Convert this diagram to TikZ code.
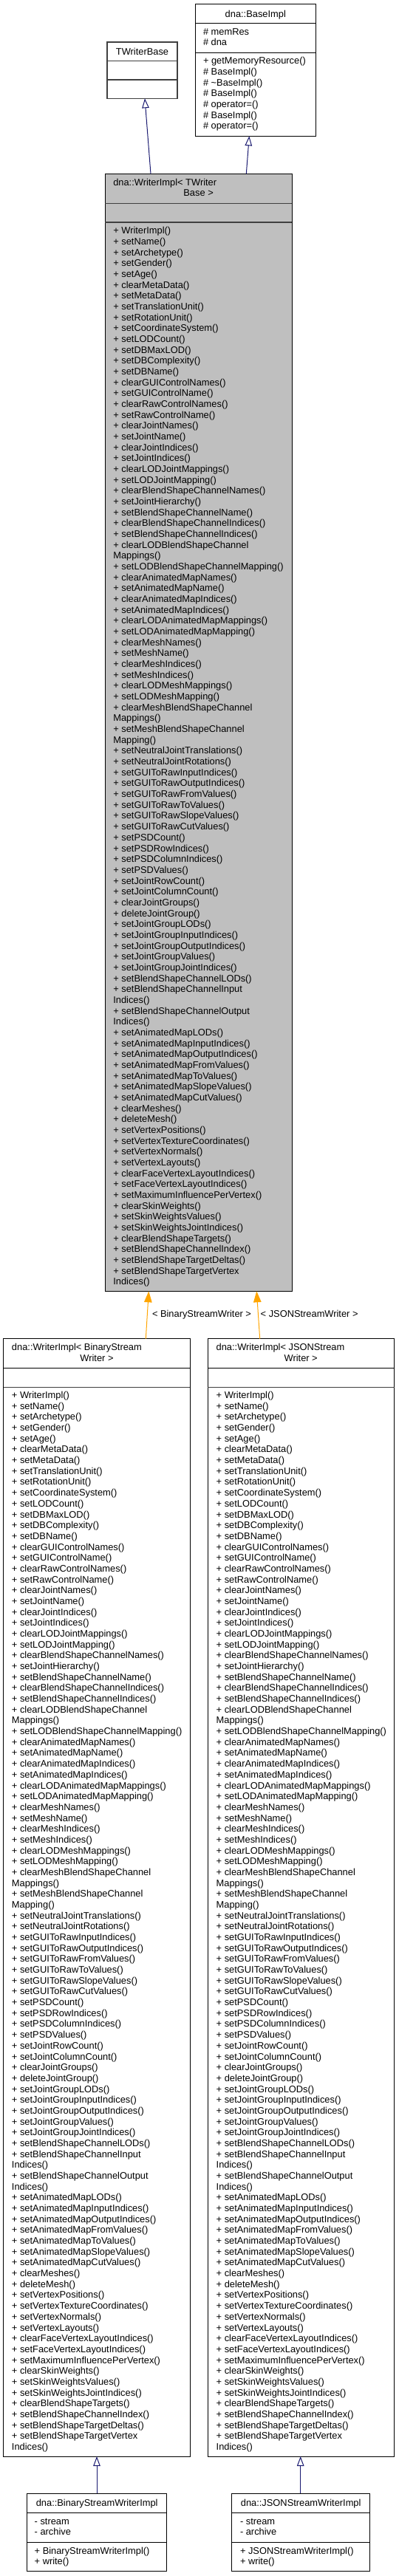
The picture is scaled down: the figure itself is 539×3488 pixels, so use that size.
\documentclass[tikz,border=0pt]{standalone}
\usepackage{fontspec}
\setmainfont{Liberation Sans}
\usetikzlibrary{arrows.meta,calc}
\definecolor{dxgray}{HTML}{BFBFBF}
\definecolor{dxblue}{HTML}{191970}
\definecolor{dxorange}{HTML}{FFA500}
\definecolor{dxline}{HTML}{404040}
\def\wlist{+ WriterImpl(),+ setName(),+ setArchetype(),+ setGender(),+ setAge(),+ clearMetaData(),+ setMetaData(),+ setTranslationUnit(),+ setRotationUnit(),+ setCoordinateSystem(),+ setLODCount(),+ setDBMaxLOD(),+ setDBComplexity(),+ setDBName(),+ clearGUIControlNames(),+ setGUIControlName(),+ clearRawControlNames(),+ setRawControlName(),+ clearJointNames(),+ setJointName(),+ clearJointIndices(),+ setJointIndices(),+ clearLODJointMappings(),+ setLODJointMapping(),+ clearBlendShapeChannelNames(),+ setJointHierarchy(),+ setBlendShapeChannelName(),+ clearBlendShapeChannelIndices(),+ setBlendShapeChannelIndices(),+ clearLODBlendShapeChannel,Mappings(),+ setLODBlendShapeChannelMapping(),+ clearAnimatedMapNames(),+ setAnimatedMapName(),+ clearAnimatedMapIndices(),+ setAnimatedMapIndices(),+ clearLODAnimatedMapMappings(),+ setLODAnimatedMapMapping(),+ clearMeshNames(),+ setMeshName(),+ clearMeshIndices(),+ setMeshIndices(),+ clearLODMeshMappings(),+ setLODMeshMapping(),+ clearMeshBlendShapeChannel,Mappings(),+ setMeshBlendShapeChannel,Mapping(),+ setNeutralJointTranslations(),+ setNeutralJointRotations(),+ setGUIToRawInputIndices(),+ setGUIToRawOutputIndices(),+ setGUIToRawFromValues(),+ setGUIToRawToValues(),+ setGUIToRawSlopeValues(),+ setGUIToRawCutValues(),+ setPSDCount(),+ setPSDRowIndices(),+ setPSDColumnIndices(),+ setPSDValues(),+ setJointRowCount(),+ setJointColumnCount(),+ clearJointGroups(),+ deleteJointGroup(),+ setJointGroupLODs(),+ setJointGroupInputIndices(),+ setJointGroupOutputIndices(),+ setJointGroupValues(),+ setJointGroupJointIndices(),+ setBlendShapeChannelLODs(),+ setBlendShapeChannelInput,Indices(),+ setBlendShapeChannelOutput,Indices(),+ setAnimatedMapLODs(),+ setAnimatedMapInputIndices(),+ setAnimatedMapOutputIndices(),+ setAnimatedMapFromValues(),+ setAnimatedMapToValues(),+ setAnimatedMapSlopeValues(),+ setAnimatedMapCutValues(),+ clearMeshes(),+ deleteMesh(),+ setVertexPositions(),+ setVertexTextureCoordinates(),+ setVertexNormals(),+ setVertexLayouts(),+ clearFaceVertexLayoutIndices(),+ setFaceVertexLayoutIndices(),+ setMaximumInfluencePerVertex(),+ clearSkinWeights(),+ setSkinWeightsValues(),+ setSkinWeightsJointIndices(),+ clearBlendShapeTargets(),+ setBlendShapeChannelIndex(),+ setBlendShapeTargetDeltas(),+ setBlendShapeTargetVertex,Indices()}
\begin{document}
\begin{tikzpicture}[x=1pt,y=-1pt,
  txt/.style={anchor=base west,inner sep=0pt,outer sep=0pt,font=\fontsize{12.85}{14.67}\selectfont},
  ctxt/.style={anchor=base,inner sep=0pt,outer sep=0pt,font=\fontsize{12.85}{14.67}\selectfont},
  classbox/.style={draw=black,line width=1pt,anchor=north west,inner sep=0pt,outer sep=0pt},
  divider/.style={draw=black,line width=1pt},
  emptydiv/.style={draw=dxline,line width=1.3pt},
  inh/.style={draw=dxblue,line width=1pt,-{Triangle[length=13pt,width=9.5pt,fill=white]}},
  tmpl/.style={draw=dxorange,line width=1pt,-{Triangle[length=15pt,width=10.5pt]}}]
\fill[white] (0,0) rectangle (539,3488);
\useasboundingbox (0,0) rectangle (539,3488);
% TWriterBase
\node[classbox,draw=dxline,line width=1.2pt,minimum width=95pt,minimum height=76.3pt] (twb) at (145,57) {};
\draw[emptydiv] (145,82.7) -- (240,82.7);
\draw[emptydiv] (145,108) -- (240,108);
\node[ctxt] (twbt) at (192.5,74.3) {TWriterBase};
% BaseImpl
\node[classbox,minimum width=163pt,minimum height=178.6pt] (bi) at (264.3,5.7) {};
\draw[divider] (264.3,31.7) -- (427.3,31.7);
\draw[divider] (264.3,71.3) -- (427.3,71.3);
\node[ctxt] (bit) at (345.8,23.2) {dna::BaseImpl};
\node[txt] (bia1) at (275,47.2) {\# memRes};
\node[txt] (bia2) at (275,61.8) {\# dna};
\foreach \t [count=\i from 0] in {+ getMemoryResource(),\# BaseImpl(),\# \textasciitilde BaseImpl(),\# BaseImpl(),\# operator=(),\# BaseImpl(),\# operator=()}
  {\node[txt] (bim\i) at (275,{86.8+\i*14.67}) {\t};}
% main box
\node[classbox,fill=dxgray,minimum width=252.7pt,minimum height=1513pt] (main) at (142.3,235.3) {};
\draw[emptydiv] (142.3,275.3) -- (395,275.3);
\draw[emptydiv] (142.3,301) -- (395,301);
\node[txt] (mt1) at (153.3,251.2) {dna::WriterImpl< TWriter};
\node[ctxt] (mt2) at (268.6,265.5) {Base >};
\foreach \t [count=\i from 0] in \wlist
  {\node[txt] (m\i) at (153.3,{316.8+\i*14.67}) {\t};}
% derived left
\node[classbox,minimum width=252.6pt,minimum height=1513.3pt] (dl) at (4.7,1812.7) {};
\draw[divider] (4.7,1852.3) -- (257.3,1852.3);
\draw[emptydiv] (4.7,1878.3) -- (257.3,1878.3);
\node[txt] (dlt1) at (16,1828.8) {dna::WriterImpl< BinaryStream};
\node[ctxt] (dlt2) at (131,1843.2) {Writer >};
\foreach \t [count=\i from 0] in \wlist
  {\node[txt] (l\i) at (16,{1893.5+\i*14.68}) {\t};}
% derived right
\node[classbox,minimum width=252.5pt,minimum height=1513.3pt] (dr) at (281,1812.7) {};
\draw[divider] (281,1852.3) -- (533.5,1852.3);
\draw[emptydiv] (281,1878.3) -- (533.5,1878.3);
\node[txt] (drt1) at (292.7,1828.8) {dna::WriterImpl< JSONStream};
\node[ctxt] (drt2) at (407.2,1843.2) {Writer >};
\foreach \t [count=\i from 0] in \wlist
  {\node[txt] (r\i) at (292.7,{1893.5+\i*14.68}) {\t};}
% bottom left
\node[classbox,minimum width=189pt,minimum height=105.4pt] (bl) at (36.7,3376.3) {};
\draw[divider] (36.7,3402.3) -- (225.7,3402.3);
\draw[divider] (36.7,3442.3) -- (225.7,3442.3);
\node[ctxt] (blt) at (131.2,3393.8) {dna::BinaryStreamWriterImpl};
\node[txt] (bla1) at (46.7,3418.2) {- stream};
\node[txt] (bla2) at (46.7,3432.8) {- archive};
\node[txt] (blm1) at (46.7,3458.8) {+ BinaryStreamWriterImpl()};
\node[txt] (blm2) at (46.7,3472.8) {+ write()};
% bottom right
\node[classbox,minimum width=187pt,minimum height=105.4pt] (br) at (313.7,3376.3) {};
\draw[divider] (313.7,3402.3) -- (500.7,3402.3);
\draw[divider] (313.7,3442.3) -- (500.7,3442.3);
\node[ctxt] (brt) at (407.2,3393.8) {dna::JSONStreamWriterImpl};
\node[txt] (bra1) at (325,3418.2) {- stream};
\node[txt] (bra2) at (325,3432.8) {- archive};
\node[txt] (brm1) at (325,3458.8) {+ JSONStreamWriterImpl()};
\node[txt] (brm2) at (325,3472.8) {+ write()};
% connectors
\draw[inh] ($(main.north west)+(61.7,0)$) -- ($(twb.south west)+(51,0)$);
\draw[inh] ($(main.north west)+(191,0)$) -- ($(bi.south west)+(73,0)$);
\draw[tmpl] ($(dl.north west)+(192.6,0)$) -- ($(main.south west)+(59,0)$);
\draw[tmpl] ($(dr.north west)+(70.7,0)$) -- ($(main.south west)+(205,0)$);
\node[txt] (lab1) at (206,1783.8) {< BinaryStreamWriter >};
\node[txt] (lab2) at (352.7,1783.8) {< JSONStreamWriter >};
\draw[inh] ($(bl.north west)+(94.3,0)$) -- ($(dl.south west)+(126.3,0)$);
\draw[inh] ($(br.north west)+(93,0)$) -- ($(dr.south west)+(125.7,0)$);
\end{tikzpicture}
\end{document}
